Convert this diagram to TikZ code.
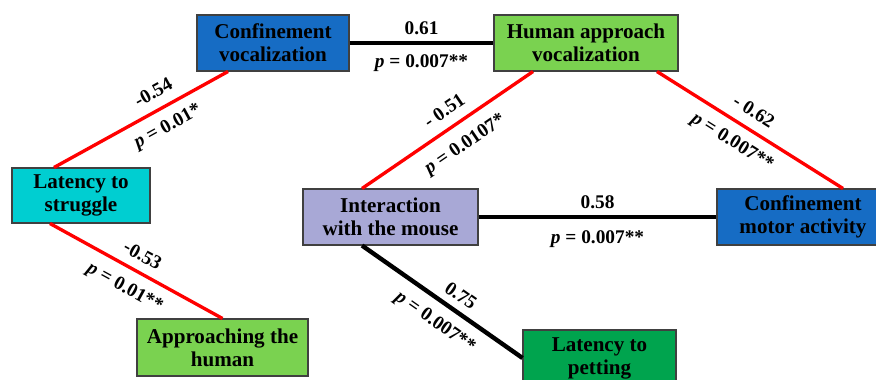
\documentclass[tikz,border=0pt]{standalone}
\usepackage{fontspec}
\setmainfont{Liberation Serif}
\usepackage{xcolor}

\definecolor{boxblue}{RGB}{22,108,196}
\definecolor{boxgreen}{RGB}{122,210,80}
\definecolor{darkgreen}{RGB}{0,164,78}
\definecolor{boxcyan}{RGB}{0,206,209}
\definecolor{lavender}{RGB}{168,168,214}

\begin{document}
\begin{tikzpicture}[x=0.02cm,y=-0.02cm,
  varbox/.style={draw=black!75,line width=0.6pt,align=center,inner sep=0pt,
    minimum height=1.12cm,font=\fontsize{12}{13}\selectfont\bfseries},
  negline/.style={red,line width=1.9pt},
  posline/.style={black,line width=1.9pt},
  coef/.style={text=black,font=\fontsize{11}{12}\selectfont\bfseries,inner sep=3pt}]
  \useasboundingbox (0,0) rectangle (876,379);
  \clip (0,0) rectangle (876,379);

  \node[varbox,fill=boxblue,minimum width=3.04cm] (cv) at (273,43) {Confinement\\vocalization};
  \node[varbox,fill=boxgreen,minimum width=3.68cm] (hav) at (586,43) {Human approach\\vocalization};
  \node[varbox,fill=boxcyan,minimum width=2.76cm,minimum height=1.1cm] (lts) at (81,195.5) {Latency to\\struggle};
  \node[varbox,fill=boxgreen,minimum width=3.42cm,minimum height=1.14cm] (ath) at (222.5,347.5) {Approaching the\\human};
  \node[varbox,fill=lavender,minimum width=3.5cm] (iwm) at (390.5,217) {Interaction\\with the mouse};
  \node[varbox,fill=boxblue,minimum width=3.44cm] (cma) at (803,217) {Confinement\\motor activity};
  \node[varbox,fill=darkgreen,minimum width=3.06cm] (ltp) at (599.5,358) {Latency to\\petting};

  \draw[posline] (cv.east) -- (hav.west)
    node[coef,midway,above=1pt] {0.61}
    node[coef,midway,below=2.5pt] {\textit{p} = 0.007**};
  \draw[negline] ([xshift=-0.9cm]cv.south) -- ([xshift=-0.54cm]lts.north)
    node[coef,pos=0.38,sloped,above=2.5pt] {-0.54}
    node[coef,pos=0.40,sloped,below=2.5pt] {\textit{p} = 0.01*};
  \draw[negline] ([xshift=-1.06cm]hav.south) -- ([xshift=-0.57cm]iwm.north)
    node[coef,pos=0.46,sloped,above=2.5pt] {- 0.51}
    node[coef,pos=0.47,sloped,below=4pt] {\textit{p} = 0.0107*};
  \draw[negline] ([xshift=1.42cm]hav.south) -- ([xshift=0.8cm]cma.north)
    node[coef,pos=0.47,sloped,above=2.5pt] {- 0.62}
    node[coef,pos=0.46,sloped,below=2.5pt] {\textit{p} = 0.007**};
  \draw[negline] ([xshift=-0.62cm]lts.south) -- (ath.north)
    node[coef,pos=0.49,sloped,above=2pt] {-0.53}
    node[coef,pos=0.49,sloped,below=3pt] {\textit{p} = 0.01**};
  \draw[posline] (iwm.east) -- (cma.west)
    node[coef,midway,above=0.5pt] {0.58}
    node[coef,midway,below=4pt] {\textit{p} = 0.007**};
  \draw[posline,line width=2.5pt] ([xshift=-0.57cm]iwm.south) -- (ltp.west)
    node[coef,pos=0.56,sloped,above=1pt] {0.75}
    node[coef,pos=0.53,sloped,below=3pt] {\textit{p} = 0.007**};
\end{tikzpicture}
\end{document}
